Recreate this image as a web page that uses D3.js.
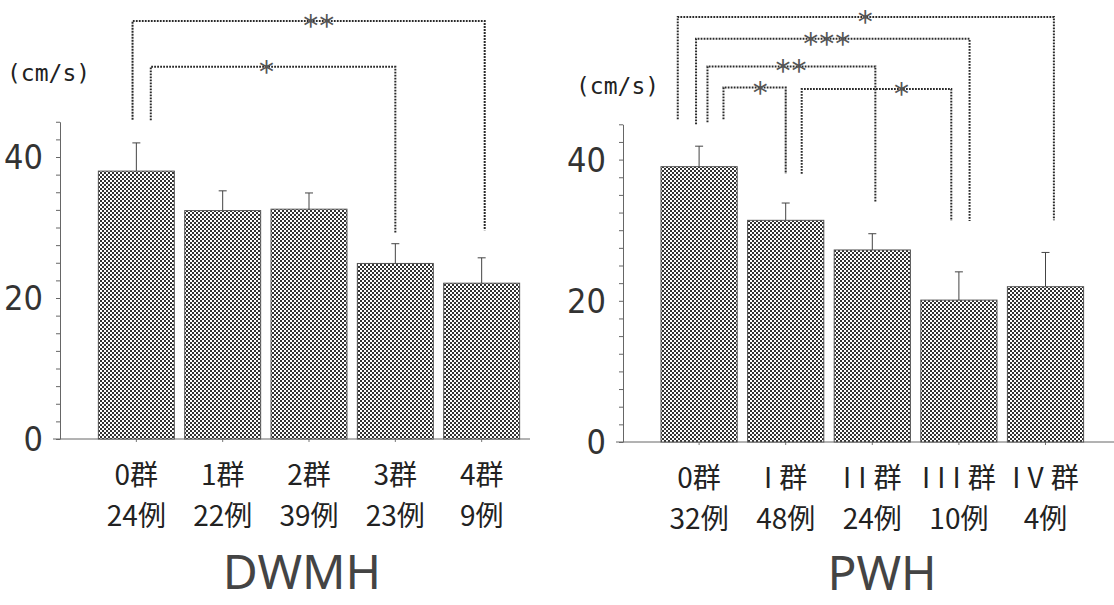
<!DOCTYPE html>
<html>
    <head>
        <meta charset="utf-8">
        <title>DWMH / PWH</title>
        <style>
            body { margin: 0; background: white; }
            svg { width: 1114px; height: 605px; display: block; }
            .bar { stroke: #555; stroke-width: 1; }
            .err { stroke: #444; stroke-width: 1; fill: none; }
            .sig { fill: none; stroke: #2a2a2a; stroke-width: 2; stroke-dasharray: 1.8 1.2; }
            .axis path, .axis line { stroke: #666; }
            .cat { font-family: "Noto Sans CJK JP", sans-serif; font-size: 28px; fill: #222; }
            .num { font-family: "Liberation Sans Narrow", "DejaVu Sans Condensed", sans-serif; font-size: 34px; fill: #333; }
            .unit { font-family: "DejaVu Sans Mono", monospace; font-size: 23px; fill: #222; }
            .star { font-family: "DejaVu Sans", sans-serif; font-size: 30px; fill: #555; letter-spacing: 1px; }
            .title { font-family: "Noto Sans", sans-serif; font-size: 48px; fill: #444; }
        </style>
        <script src="https://d3js.org/d3.v7.min.js"></script>
    </head>
    <body>
        <svg id='main'></svg>
    <script>
        // DWMH panel
        let dwmhGroups = ['0群', '1群', '2群', '3群', '4群'];
        let dwmhCases = ['24例', '22例', '39例', '23例', '9例'];
        let dwmhMean = [38.0, 32.4, 32.6, 24.9, 22.1];
        let dwmhSD = [4.0, 2.8, 2.3, 2.8, 3.6];
        let dwmhSig = [
            {from: 0, to: 4, label: '**', level: 59.3, legFrom: 45.3, legTo: 29.6},
            {from: 0, to: 3, label: '*', level: 52.8, legFrom: 45.2, legTo: 29.1}
        ];

        // PWH panel
        let pwhGroups = ['0群', 'I群', 'II群', 'III群', 'IV群'];
        let pwhCases = ['32例', '48例', '24例', '10例', '4例'];
        let pwhMean = [39.0, 31.4, 27.2, 20.1, 22.0];
        let pwhSD = [2.9, 2.45, 2.3, 4.0, 4.85];
        let pwhSig = [
            {from: 0, to: 4, label: '*', level: 60.2, legFrom: 45.7, legTo: 31.4},
            {from: 0, to: 3, label: '***', level: 57.1, legFrom: 45.0, legTo: 31.3},
            {from: 0, to: 2, label: '**', level: 53.2, legFrom: 45.3, legTo: 33.9},
            {from: 0, to: 1, label: '*', level: 50.2, legFrom: 45.7, legTo: 38.0},
            {from: 1, to: 3, label: '*', level: 50.0, legFrom: 38.0, legTo: 31.3}
        ];

        let yLabels = [0, 20, 40];
        let yTicks = [0, 2.5, 5, 7.5, 10, 12.5, 15, 17.5, 20, 22.5, 25, 27.5, 30, 32.5, 35, 37.5, 40, 42.5, 45];
        let yMax = 45;

        let svg = d3.select('svg#main');

        let defs = svg.append('defs');
        let pat = defs.append('pattern')
            .attr('id', 'dots')
            .attr('patternUnits', 'userSpaceOnUse')
            .attr('width', 4).attr('height', 4);
        pat.append('rect').attr('width', 4).attr('height', 4).attr('fill', 'white');
        pat.append('rect').attr('x', 0).attr('y', 0).attr('width', 2).attr('height', 2).attr('fill', '#333');
        pat.append('rect').attr('x', 2).attr('y', 2).attr('width', 2).attr('height', 2).attr('fill', '#333');

        function drawPanel(p) {
            let g = svg.append('g');

            let x = d3.scaleBand()
                .domain(p.groups)
                .range(p.xRange)
                .paddingInner(0.12)
                .paddingOuter(0.12);
            let y = d3.scaleLinear()
                .domain([0, yMax])
                .range([p.baseY, p.baseY - yMax * p.unit]);

            // y axis with small ticks
            g.append('g')
                .attr('class', 'axis')
                .attr('transform', 'translate(' + p.axisX + ',0)')
                .call(d3.axisLeft(y).tickValues(yTicks).tickSize(4).tickSizeOuter(0).tickFormat(''));

            g.selectAll('.ylab')
                .data(yLabels)
                .enter().append('text')
                .attr('class', 'num')
                .attr('text-anchor', 'end')
                .attr('x', p.axisX - 17)
                .attr('y', d => y(d) + 12)
                .text(d => d);

            // x axis
            g.append('line')
                .attr('x1', p.axisX - 7).attr('x2', p.xEnd)
                .attr('y1', y(0)).attr('y2', y(0))
                .attr('stroke', '#666');
            g.selectAll('.xtick')
                .data(p.groups)
                .enter().append('line')
                .attr('stroke', '#777')
                .attr('x1', d => x(d) + x.bandwidth() / 2)
                .attr('x2', d => x(d) + x.bandwidth() / 2)
                .attr('y1', y(0)).attr('y2', y(0) + 3);

            // bars
            g.selectAll('.bar')
                .data(p.groups)
                .enter().append('rect')
                .attr('class', 'bar')
                .attr('fill', 'url(#dots)')
                .attr('x', d => x(d))
                .attr('width', x.bandwidth())
                .attr('y', (d, i) => y(p.mean[i]))
                .attr('height', (d, i) => y(0) - y(p.mean[i]));

            // error bars (upper only)
            let err = g.selectAll('.err')
                .data(p.groups)
                .enter().append('g')
                .attr('class', 'err');
            err.append('line')
                .attr('x1', d => x(d) + x.bandwidth() / 2)
                .attr('x2', d => x(d) + x.bandwidth() / 2)
                .attr('y1', (d, i) => y(p.mean[i]))
                .attr('y2', (d, i) => y(p.mean[i] + p.sd[i]));
            err.append('line')
                .attr('x1', d => x(d) + x.bandwidth() / 2 - 4)
                .attr('x2', d => x(d) + x.bandwidth() / 2 + 4)
                .attr('y1', (d, i) => y(p.mean[i] + p.sd[i]))
                .attr('y2', (d, i) => y(p.mean[i] + p.sd[i]));

            // category labels, roman numerals spread out
            let lab = g.selectAll('.cat1')
                .data(p.groups)
                .enter().append('text')
                .attr('class', 'cat')
                .attr('text-anchor', 'middle')
                .attr('x', d => x(d) + x.bandwidth() / 2)
                .attr('y', y(0) + 46);
            lab.append('tspan')
                .style('letter-spacing', d => /^[IV]+/.test(d) ? '7px' : null)
                .text(d => d.slice(0, -1));
            lab.append('tspan')
                .text(d => d.slice(-1));

            g.selectAll('.cat2')
                .data(p.cases)
                .enter().append('text')
                .attr('class', 'cat')
                .attr('text-anchor', 'middle')
                .attr('x', (d, i) => x(p.groups[i]) + x.bandwidth() / 2)
                .attr('y', y(0) + 87)
                .text(d => d);

            // significance brackets
            let cx = i => x(p.groups[i]) + x.bandwidth() / 2;
            let sig = g.selectAll('.sigb')
                .data(p.sig)
                .enter().append('g');
            sig.append('path')
                .attr('class', 'sig')
                .attr('d', (d, k) => {
                    let x1 = cx(d.from) + p.sigDx[k][0] * x.bandwidth();
                    let x2 = cx(d.to) + p.sigDx[k][1] * x.bandwidth();
                    return 'M' + x1 + ',' + y(d.legFrom) + 'V' + y(d.level) + 'H' + x2 + 'V' + y(d.legTo);
                });
            sig.append('text')
                .attr('class', 'star')
                .attr('text-anchor', 'middle')
                .attr('x', (d, k) => {
                    let x1 = cx(d.from) + p.sigDx[k][0] * x.bandwidth();
                    let x2 = cx(d.to) + p.sigDx[k][1] * x.bandwidth();
                    return x1 + (x2 - x1) * p.sigDx[k][2];
                })
                .attr('y', d => y(d.level) + 15)
                .text(d => d.label);

            g.append('text')
                .attr('class', 'unit')
                .attr('x', p.unitPos[0]).attr('y', p.unitPos[1])
                .text('(cm/s)');

            g.append('text')
                .attr('class', 'title')
                .attr('text-anchor', 'middle')
                .attr('x', p.titlePos[0]).attr('y', p.titlePos[1])
                .text(p.title);
        }

        drawPanel({
            groups: dwmhGroups, cases: dwmhCases, mean: dwmhMean, sd: dwmhSD, sig: dwmhSig,
            sigDx: [[-0.05, 0.04, 0.53], [0.19, 0.0, 0.475]],
            xRange: [88, 530], xEnd: 530, axisX: 60, baseY: 439, unit: 7.05,
            unitPos: [7, 81], title: 'DWMH', titlePos: [302, 589]
        });
        drawPanel({
            groups: pwhGroups, cases: pwhCases, mean: pwhMean, sd: pwhSD, sig: pwhSig,
            sigDx: [[-0.28, 0.11, 0.5], [-0.04, 0.14, 0.48], [0.11, 0.04, 0.5], [0.32, 0.0, 0.6], [0.21, -0.1, 0.67]],
            xRange: [650.6, 1094], xEnd: 1114, axisX: 623, baseY: 442, unit: 7.06,
            unitPos: [576, 94], title: 'PWH', titlePos: [882, 590]
        });
    </script>
    </body>
</html>
